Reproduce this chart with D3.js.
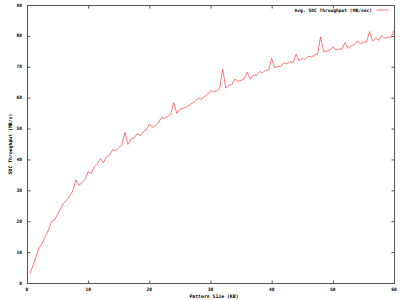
<!DOCTYPE html>
<html>
<head>
<meta charset="utf-8">
<script src="https://cdn.jsdelivr.net/npm/d3@7"></script>
<style>
  body { margin: 0; background: #fff; }
  svg text { font-family: "DejaVu Sans Mono", monospace; font-weight: bold; fill: #000; }
</style>
</head>
<body>
<svg id="chart" width="400" height="300"></svg>
<script>
// pattern sizes in KB, 0.5 .. 60 by 0.5
const sizes = d3.range(1, 121).map(i => i / 2);

// average SDC throughput (MB/sec)
const throughput = [
    3.1, 5.8, 8.6, 11.5, 12.9, 15.2, 17.1, 19.9, 20.4, 22.3,
    24.1, 25.9, 26.8, 28.3, 29.8, 33.4, 31.6, 32.5, 33.6, 36.0,
    35.4, 37.6, 38.5, 40.2, 38.9, 40.8, 41.4, 43.1, 42.8, 43.9,
    44.6, 48.7, 44.9, 46.6, 47.0, 48.3, 47.7, 48.9, 49.6, 51.5,
    50.4, 50.9, 52.0, 53.6, 53.3, 53.9, 54.6, 58.4, 54.9, 56.3,
    56.6, 56.9, 57.6, 58.2, 58.9, 59.8, 59.5, 60.3, 61.0, 62.3,
    61.9, 62.2, 63.0, 69.2, 63.1, 64.0, 64.2, 66.0, 65.3, 65.6,
    66.1, 68.3, 66.0, 67.3, 67.2, 68.4, 68.1, 68.8, 69.0, 72.7,
    69.7, 70.0, 70.2, 71.3, 70.9, 71.6, 71.4, 74.1, 71.9, 72.7,
    72.5, 73.4, 73.2, 73.8, 74.0, 79.7, 74.9, 75.1, 75.3, 76.5,
    75.4, 75.7, 75.8, 77.8, 76.0, 76.8, 77.2, 78.4, 77.5, 77.9,
    78.0, 81.4, 78.3, 79.2, 78.6, 80.1, 79.2, 79.6, 79.5, 81.7
];

const xTicks = [0, 10, 20, 30, 40, 50, 60];
const yTicks = [0, 10, 20, 30, 40, 50, 60, 70, 80, 90];

const svg = d3.select("#chart");
const margin = { top: 5, right: 6, bottom: 17, left: 27 };
const width = 400, height = 300;

const x = d3.scaleLinear().domain([0, 60]).range([margin.left, width - margin.right]);
const y = d3.scaleLinear().domain([0, 90]).range([height - margin.bottom, margin.top]);

// frame
svg.append("rect")
    .attr("x", x(0) + 0.5)
    .attr("y", y(90) + 0.5)
    .attr("width", x(60) - x(0))
    .attr("height", y(0) - y(90))
    .attr("fill", "none")
    .attr("stroke", "#555")
    .attr("stroke-width", 1);

// ticks, inward and mirrored like gnuplot
const tick = 3;
svg.append("g")
    .attr("transform", `translate(0,${y(0) + 0.5})`)
    .call(d3.axisTop(x).tickValues(xTicks).tickSize(tick).tickFormat(""))
    .call(g => g.select(".domain").remove());
svg.append("g")
    .attr("transform", `translate(0,${y(90) + 0.5})`)
    .call(d3.axisBottom(x).tickValues(xTicks).tickSize(tick).tickFormat(""))
    .call(g => g.select(".domain").remove());
svg.append("g")
    .attr("transform", `translate(${x(0) + 0.5},0)`)
    .call(d3.axisRight(y).tickValues(yTicks).tickSize(tick).tickFormat(""))
    .call(g => g.select(".domain").remove());
svg.append("g")
    .attr("transform", `translate(${x(60) + 0.5},0)`)
    .call(d3.axisLeft(y).tickValues(yTicks).tickSize(tick).tickFormat(""))
    .call(g => g.select(".domain").remove());
svg.selectAll(".tick line").attr("stroke", "#555");

// tick labels
svg.append("g").selectAll("text")
    .data(xTicks)
    .join("text")
    .attr("x", d => x(d))
    .attr("y", y(0) + 8)
    .attr("text-anchor", "middle")
    .attr("font-size", 4.6)
    .text(d => d);

svg.append("g").selectAll("text")
    .data(yTicks)
    .join("text")
    .attr("x", x(0) - 5)
    .attr("y", d => y(d) + 1.6)
    .attr("text-anchor", "end")
    .attr("font-size", 4.6)
    .text(d => d);

// axis titles
svg.append("text")
    .attr("x", 214)
    .attr("y", 297.5)
    .attr("text-anchor", "middle")
    .attr("font-size", 4.8)
    .text("Pattern Size (KB)");

svg.append("text")
    .attr("transform", `translate(11.5,${(y(0) + y(90)) / 2}) rotate(-90)`)
    .attr("text-anchor", "middle")
    .attr("font-size", 4.8)
    .text("SDC Throughput (MB/s)");

// data line
const line = d3.line()
    .x((d, i) => x(sizes[i]))
    .y(d => y(d));

svg.append("path")
    .datum(throughput)
    .attr("d", line)
    .attr("fill", "none")
    .attr("stroke", "#ff4a4a")
    .attr("stroke-width", 0.75);

// legend
svg.append("text")
    .attr("x", 372)
    .attr("y", 11.5)
    .attr("text-anchor", "end")
    .attr("font-size", 4.6)
    .text("Avg. SDC Throughput (MB/sec)");
svg.append("line")
    .attr("x1", 376.5).attr("x2", 388.5)
    .attr("y1", 10).attr("y2", 10)
    .attr("stroke", "#ff4a4a")
    .attr("stroke-width", 0.75);
</script>
</body>
</html>
